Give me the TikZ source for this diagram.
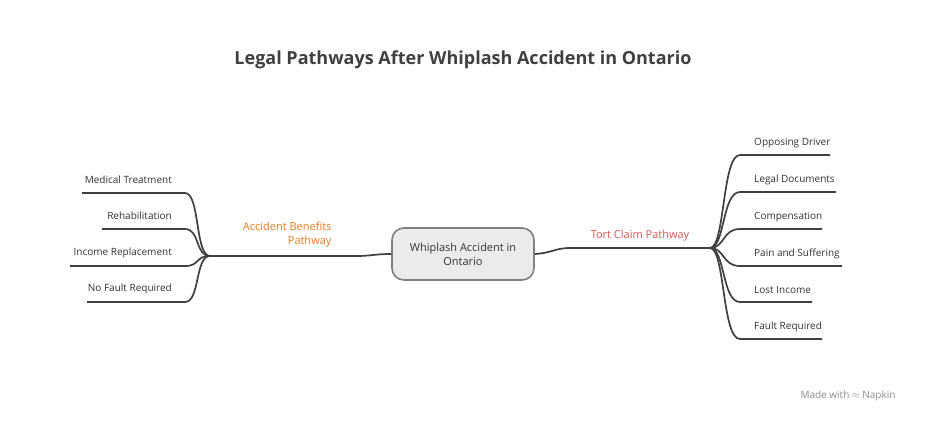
\documentclass[tikz,border=0pt]{standalone}
\usepackage{fontspec}
\setmainfont{Open Sans}
\begin{document}
\begin{tikzpicture}[x=1pt,y=-1pt,
  ln/.style={draw=black!75,line width=1.7pt},
  leafL/.style={font=\fontsize{10}{12}\selectfont,text=black!80,anchor=east,inner sep=0},
  leafR/.style={font=\fontsize{10}{12}\selectfont,text=black!80,anchor=west,inner sep=0}]
\useasboundingbox[fill=white] (0,0) rectangle (926,424);
\node[font=\fontsize{18}{21}\selectfont\bfseries,text=black!75] (title) at (463,60) {Legal Pathways After Whiplash Accident in Ontario};
\node[draw=black!50,line width=1.6pt,fill=black!8,rounded corners=12pt,minimum width=142pt,minimum height=52pt,align=center,font=\fontsize{11}{14}\selectfont,text=black!80] (c) at (463,254) {Whiplash Accident in\\Ontario};
% left
\coordinate (l1) at (357,256); \coordinate (lh) at (210,256);
\draw[ln] (c.west) .. controls (375,254) and (370,256) .. (l1) -- (lh);
\node[align=right,font=\fontsize{11}{14}\selectfont,text={rgb,255:red,230;green,125;blue,30},anchor=east] (lab) at (335,235) {Accident Benefits\\Pathway};
\foreach \n/\y/\x/\t in {a/193/82/Medical Treatment,b/229/102/Rehabilitation,c/266/70/Income Replacement,d/302/87/No Fault Required}{
  \coordinate (L\n) at (185,\y); \coordinate (E\n) at (\x,\y);
  \draw[ln] (lh) .. controls (195,256) and (200,\y) .. (L\n) -- (E\n);
  \node[leafL] (tl\n) at (172,\y-13) {\t};}
% right
\coordinate (r1) at (570,248); \coordinate (rh) at (710,248);
\draw[ln] (c.east) .. controls (552,253) and (555,248) .. (r1) -- (rh);
\node[font=\fontsize{11}{14}\selectfont,text={rgb,255:red,225;green,85;blue,85}] (rlab) at (640,236) {Tort Claim Pathway};
\foreach \n/\y/\x/\t in {a/155/830/Opposing Driver,b/192/836/Legal Documents,c/229/822/Compensation,d/266/842/Pain and Suffering,e/302/812/Lost Income,f/339/822/Fault Required}{
  \coordinate (R\n) at (740,\y); \coordinate (F\n) at (\x,\y);
  \draw[ln] (rh) .. controls (725,248) and (722,\y) .. (R\n) -- (F\n);
  \node[leafR] (tr\n) at (754,\y-12) {\t};}
\node[font=\fontsize{10}{12}\selectfont,text=black!45] (wm) at (848,396) {Made with \textbf{$\approx$} Napkin};
\end{tikzpicture}
\end{document}
